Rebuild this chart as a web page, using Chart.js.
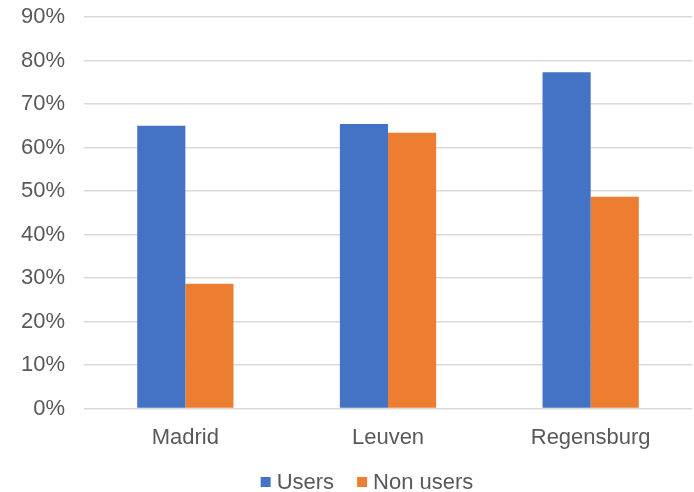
<!DOCTYPE html>
<html>
<head>
<meta charset="utf-8">
<script src="https://cdn.jsdelivr.net/npm/chart.js@4/dist/chart.umd.min.js"></script>
<style>
  html, body { margin: 0; padding: 0; background: #fff; }
  #wrap { width: 694px; height: 492px; }
</style>
</head>
<body>
<div id="wrap"><canvas id="c" width="694" height="492"></canvas></div>
<script>
// Share of respondents per city, in percent
const cities = ['Madrid', 'Leuven', 'Regensburg'];
const users = [65.0, 65.4, 77.3];
const nonUsers = [28.7, 63.4, 48.7];
const yTicks = [0, 10, 20, 30, 40, 50, 60, 70, 80, 90];

const fontFamily = '"Liberation Sans", Arial, sans-serif';
const font = { family: fontFamily, size: 22 };
const textColor = '#595959';

// Compact legend drawn under the axis: square swatch, short gap, label.
const bottomLegend = {
  id: 'bottomLegend',
  afterDraw(chart, args, opts) {
    const ctx = chart.ctx;
    ctx.save();
    ctx.font = `${font.size}px ${fontFamily}`;
    ctx.textBaseline = 'middle';
    ctx.textAlign = 'left';
    const items = chart.data.datasets.map(ds => ({
      label: ds.label,
      color: ds.backgroundColor,
      w: opts.box + opts.gap + ctx.measureText(ds.label).width
    }));
    const total = items.reduce((s, it) => s + it.w, 0) + opts.spacing * (items.length - 1);
    let x = opts.centerX - total / 2;
    const cy = chart.height - opts.fromBottom;
    items.forEach(it => {
      ctx.fillStyle = it.color;
      ctx.fillRect(x, cy - opts.box / 2, opts.box, opts.box);
      ctx.fillStyle = textColor;
      ctx.fillText(it.label, x + opts.box + opts.gap, cy + 1);
      x += it.w + opts.spacing;
    });
    ctx.restore();
  }
};

new Chart(document.getElementById('c'), {
  type: 'bar',
  data: {
    labels: cities,
    datasets: [
      { label: 'Users', data: users, backgroundColor: '#4472C4' },
      { label: 'Non users', data: nonUsers, backgroundColor: '#ED7D31' }
    ]
  },
  plugins: [bottomLegend],
  options: {
    responsive: false,
    animation: false,
    layout: { padding: { left: 21, right: 2, top: 17, bottom: 33 } },
    datasets: { bar: { barPercentage: 1, categoryPercentage: 0.475 } },
    plugins: {
      tooltip: { enabled: false },
      legend: { display: false },
      bottomLegend: { centerX: 367, fromBottom: 10, box: 10, gap: 6, spacing: 23 }
    },
    scales: {
      x: {
        grid: { display: false },
        border: { display: false },
        ticks: { font: font, color: textColor, padding: 8 }
      },
      y: {
        min: 0,
        max: 90,
        afterBuildTicks: (axis) => { axis.ticks = yTicks.map(v => ({ value: v })); },
        grid: {
          color: '#d9d9d9',
          lineWidth: 1.5,
          drawTicks: true,
          tickLength: 19,
          tickColor: 'rgba(0,0,0,0)'
        },
        border: { display: false },
        ticks: {
          font: font,
          color: textColor,
          padding: 0,
          callback: (v) => v + '%'
        }
      }
    }
  }
});
</script>
</body>
</html>
